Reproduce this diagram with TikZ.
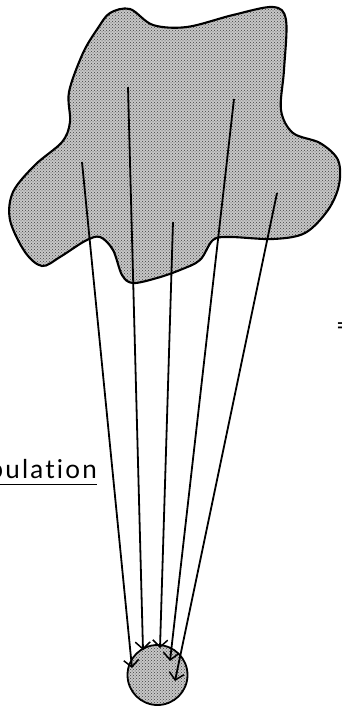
\documentclass[tikz,border=0pt]{standalone}
\usepackage{fontspec}
\setmainfont{Lato}
\newfontfamily\lblfont[LetterSpace=8.5,Ligatures=NoCommon]{Lato}
\usetikzlibrary{arrows.meta,patterns}
\begin{document}
\begin{tikzpicture}[x=1pt,y=-1pt,
  region/.style={draw=black,line width=2.1pt,pattern=crosshatch dots,pattern color=black!75},
  regionbg/.style={fill=black!22},
  sample/.style={-{Straight Barb[length=7pt,width=15pt,line width=1.5pt]},line width=1.8pt},
  lbl/.style={inner sep=0pt,font=\lblfont\fontsize{26}{30}\selectfont}]
\useasboundingbox (0,0) rectangle (341,707);
% population blob
\path[regionbg] plot[smooth cycle,tension=0.55] coordinates {
 (110,13) (130,9) (153,25) (187,27) (233,15) (273,7) (286,20) (284,70) (281,110) (293,133) (320,143)
 (338,160) (339,185) (328,210) (305,233) (273,239) (230,237) (213,240) (200,260) (180,270)
 (157,278) (133,283) (122,275) (113,250) (100,237) (85,241) (60,257) (42,266) (25,252) (10,220)
 (13,192) (35,165) (62,142) (70,122) (69,92) (83,53) (98,28)};
\path[region] plot[smooth cycle,tension=0.55] coordinates {
 (110,13) (130,9) (153,25) (187,27) (233,15) (273,7) (286,20) (284,70) (281,110) (293,133) (320,143)
 (338,160) (339,185) (328,210) (305,233) (273,239) (230,237) (213,240) (200,260) (180,270)
 (157,278) (133,283) (122,275) (113,250) (100,237) (85,241) (60,257) (42,266) (25,252) (10,220)
 (13,192) (35,165) (62,142) (70,122) (69,92) (83,53) (98,28)};
% sample circle
\node[circle,minimum size=60pt,inner sep=0pt,fill=black!22] (sampbg) at (157.5,675) {};
\node[circle,minimum size=60pt,inner sep=0pt,draw=black,line width=1.8pt,pattern=crosshatch dots,pattern color=black!75] (samp) at (157.5,675) {};
% start and end points
\coordinate (s1) at (82,162);
\coordinate (s2) at (128,87);
\coordinate (s3) at (173,222);
\coordinate (s4) at (234,99);
\coordinate (s5) at (277,193);
\coordinate (e1) at (132,668);
\coordinate (e2) at (143,650);
\coordinate (e3) at (160,648);
\coordinate (e4) at (170,661);
\coordinate (e5) at (175,681);
\draw[sample] (s1) -- (e1);
\draw[sample] (s2) -- (e2);
\draw[sample] (s3) -- (e3);
\draw[sample] (s4) -- (e4);
\draw[sample] (s5) -- (e5);
% labels (cropped at the edges, as in the reference)
\node[lbl,anchor=base east] (pop) at (97,478) {\underline{Population}};
\node[lbl,anchor=base west] (eq) at (336,334) {=};
\end{tikzpicture}
\end{document}
